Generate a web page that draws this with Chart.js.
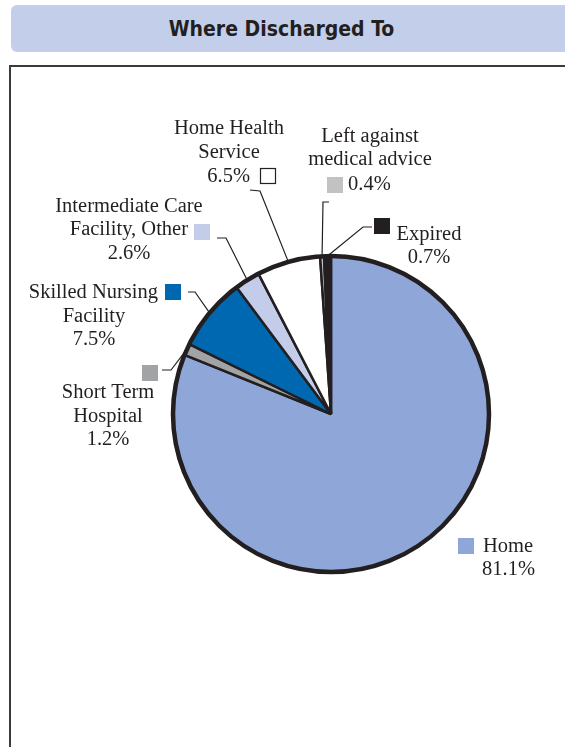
<!DOCTYPE html>
<html>
<head>
<meta charset="utf-8">
<script src="https://cdn.jsdelivr.net/npm/chart.js@4"></script>
<style>
  html, body { margin: 0; padding: 0; background: #fff; width: 565px; height: 747px; overflow: hidden; position: relative; }
  #titlebar { position: absolute; left: 11px; top: 5px; width: 600px; height: 47px; background: #c3cfea; border-radius: 6px; }
  #titlebar span { position: absolute; left: 0; top: 0; width: 541px; line-height: 48px; text-align: center;
    font-family: "DejaVu Sans Condensed", "DejaVu Sans", sans-serif; font-stretch: condensed; font-weight: bold; font-size: 21px; color: #231f20; }
  #frame { position: absolute; left: 9px; top: 65px; width: 700px; height: 800px; border-left: 2px solid #3b3b3b; border-top: 2px solid #3b3b3b; }
  #c { position: absolute; left: 0; top: 0; }
</style>
</head>
<body>
<div id="titlebar"><span>Where Discharged To</span></div>
<div id="frame"></div>
<canvas id="c" width="565" height="747"></canvas>
<script>
// Discharge destinations, clockwise from 12 o'clock
const categories = ['Home', 'Short Term Hospital', 'Skilled Nursing Facility', 'Intermediate Care Facility, Other',
                    'Home Health Service', 'Left against medical advice', 'Expired'];
const shares = [81.1, 1.2, 7.5, 2.6, 6.5, 0.4, 0.7];
const sliceColors = ['#8fa7d8', '#a2a3a5', '#0067b1', '#c3cdea', '#ffffff', '#c1c2c4', '#231f20'];

// Callout placement: swatch corner, text lines ('{v}' is the share), and the leader's first two points
const labelLayout = [
  { box: [458, 538], lines: [['Home', 483, 552, 'left'], ['{v}', 482, 575, 'left']], leader: null },
  { box: [142, 365], lines: [['Short Term', 108, 398, 'center'], ['Hospital', 108, 422, 'center'], ['{v}', 108, 445, 'center']],
    leader: [[162, 370], [171, 370]] },
  { box: [165, 284], lines: [['Skilled Nursing', 158, 298, 'right'], ['Facility', 94, 322, 'center'], ['{v}', 94, 345, 'center']],
    leader: [[188, 292], [195, 292]] },
  { box: [194, 224], lines: [['Intermediate Care', 129, 212, 'center'], ['Facility, Other', 188, 235, 'right'], ['{v}', 129, 259, 'center']],
    leader: [[217, 238], [226, 238]] },
  { box: [260, 168], lines: [['Home Health', 229, 134, 'center'], ['Service', 229, 158, 'center'], ['{v}', 250, 182, 'right']],
    leader: [[250, 190], [260, 191]] },
  { box: [327, 177], lines: [['Left against', 370, 142, 'center'], ['medical advice', 370, 165, 'center'], ['{v}', 348, 190, 'left']],
    leader: [[329, 202], [323, 202]] },
  { box: [374, 218], lines: [['Expired', 429, 240, 'center'], ['{v}', 429, 263, 'center']],
    leader: [[372, 227], [363, 227]] }
];

const INK = '#231f20';
const SWATCH = 16;

const calloutPlugin = {
  id: 'callouts',
  afterDatasetsDraw(chart) {
    const ctx = chart.ctx;
    const meta = chart.getDatasetMeta(0);
    const first = meta.data[0];
    ctx.save();
    // heavier outer rim of the pie
    ctx.beginPath();
    ctx.arc(first.x, first.y, first.outerRadius, 0, Math.PI * 2);
    ctx.lineWidth = 4.5;
    ctx.strokeStyle = INK;
    ctx.stroke();

    ctx.font = '20.5px "Liberation Serif", "Times New Roman", serif';
    ctx.textBaseline = 'alphabetic';
    meta.data.forEach((arc, i) => {
      const L = labelLayout[i];
      const mid = (arc.startAngle + arc.endAngle) / 2;
      const px = arc.x + Math.cos(mid) * arc.outerRadius;
      const py = arc.y + Math.sin(mid) * arc.outerRadius;
      if (L.leader) {
        ctx.beginPath();
        ctx.moveTo(L.leader[0][0], L.leader[0][1]);
        ctx.lineTo(L.leader[1][0], L.leader[1][1]);
        ctx.lineTo(px, py);
        ctx.lineWidth = 1.2;
        ctx.strokeStyle = INK;
        ctx.stroke();
      }
      ctx.fillStyle = sliceColors[i];
      ctx.fillRect(L.box[0], L.box[1], SWATCH, SWATCH);
      if (sliceColors[i] === '#ffffff') {
        ctx.lineWidth = 1.2;
        ctx.strokeStyle = INK;
        ctx.strokeRect(L.box[0] + 0.5, L.box[1] + 0.5, SWATCH - 1, SWATCH - 1);
      }
      ctx.fillStyle = INK;
      L.lines.forEach(([t, x, y, align]) => {
        ctx.textAlign = align;
        ctx.fillText(t.replace('{v}', shares[i].toFixed(1) + '%'), x, y);
      });
    });
    ctx.restore();
  }
};

new Chart(document.getElementById('c'), {
  type: 'pie',
  data: {
    labels: categories,
    datasets: [{
      data: shares,
      backgroundColor: sliceColors,
      borderColor: INK,
      borderWidth: 2.5,
      radius: 158
    }]
  },
  options: {
    responsive: false,
    animation: false,
    radius: 158,
    layout: { padding: { left: 97, top: 81, right: 0, bottom: 0 } },
    plugins: { legend: { display: false }, tooltip: { enabled: false }, title: { display: false } }
  },
  plugins: [calloutPlugin]
});
</script>
</body>
</html>
